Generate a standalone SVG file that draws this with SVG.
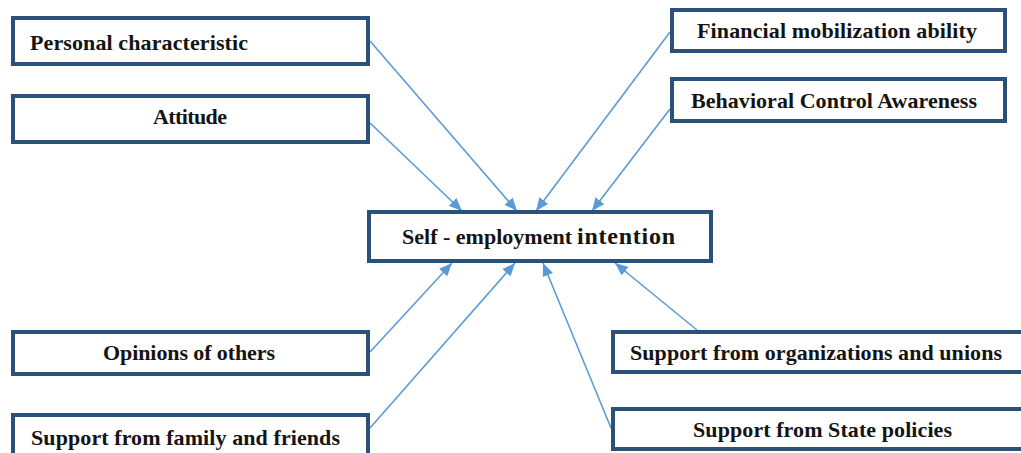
<svg xmlns="http://www.w3.org/2000/svg" width="1021" height="453" viewBox="0 0 1021 453">
<style>
.box{fill:#fff;stroke:#2b5178;stroke-width:4}
.t{font-family:"Liberation Serif","Times New Roman",serif;font-weight:bold;font-size:22px;fill:#141414}
.c{stroke:#5b9bd5;stroke-width:1.6;fill:none;marker-end:url(#ah)}
</style>
<defs>
<marker id="ah" markerUnits="userSpaceOnUse" markerWidth="13" markerHeight="11" refX="13" refY="5.5" orient="auto">
<path d="M0,0 L13,5.5 L0,11 z" fill="#5b9bd5"/>
</marker>
</defs>
<rect width="1021" height="453" fill="#fff"/>
<g id="connectors">
<line class="c" x1="370" y1="41" x2="517" y2="211"/>
<line class="c" x1="370" y1="123" x2="462" y2="211"/>
<line class="c" x1="670" y1="32" x2="536" y2="211"/>
<line class="c" x1="670" y1="109" x2="592" y2="211"/>
<line class="c" x1="370" y1="352" x2="452" y2="263"/>
<line class="c" x1="370" y1="428" x2="515" y2="263"/>
<line class="c" x1="697" y1="330" x2="615" y2="263"/>
<line class="c" x1="611" y1="428" x2="543" y2="263"/>
</g>
<g id="personal">
<rect class="box" x="13" y="18" width="355" height="46"/>
<text class="t" x="30" y="50" textLength="218">Personal characteristic</text>
</g>
<g id="attitude">
<rect class="box" x="13" y="96" width="355" height="46"/>
<text class="t" x="153" y="124" textLength="74">Attitude</text>
</g>
<g id="financial">
<rect class="box" x="672" y="10" width="333" height="41"/>
<text class="t" x="697" y="38" textLength="280">Financial mobilization ability</text>
</g>
<g id="behavioral">
<rect class="box" x="672" y="79" width="333" height="42"/>
<text class="t" x="691" y="108" textLength="286">Behavioral Control Awareness</text>
</g>
<g id="intention">
<rect class="box" x="369" y="212" width="342" height="49"/>
<text class="t" x="402" y="244"><tspan textLength="170">Self - employment</tspan><tspan x="577" font-size="24" textLength="98">intention</tspan></text>
</g>
<g id="opinions">
<rect class="box" x="13" y="332" width="355" height="42"/>
<text class="t" x="103" y="360" textLength="172">Opinions of others</text>
</g>
<g id="family">
<rect class="box" x="13" y="415" width="355" height="50"/>
<text class="t" x="31" y="445" textLength="309">Support from family and friends</text>
</g>
<g id="organizations">
<rect class="box" x="613" y="332" width="420" height="40"/>
<text class="t" x="630" y="360" textLength="372">Support from organizations and unions</text>
</g>
<g id="state">
<rect class="box" x="613" y="409" width="420" height="40"/>
<text class="t" x="693" y="437" textLength="259">Support from State policies</text>
</g>
</svg>
